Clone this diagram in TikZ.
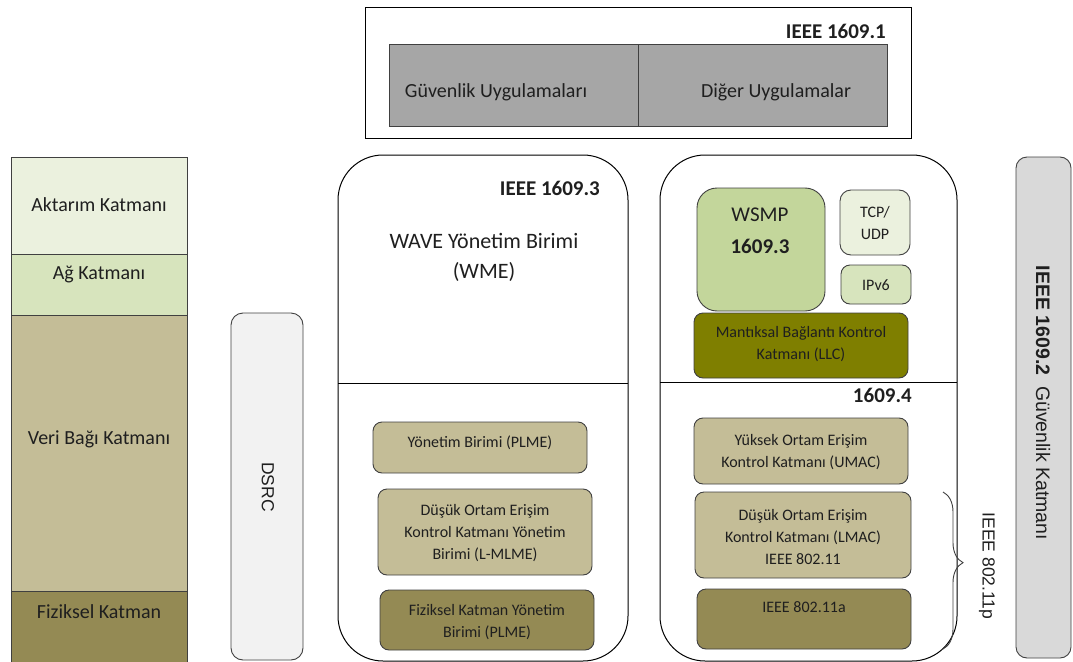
\documentclass[tikz,border=0pt]{standalone}
\usepackage{fontspec}
\setmainfont{Carlito}
\newfontfamily\arialf{Liberation Sans}
\usetikzlibrary{decorations.pathreplacing}
\definecolor{lightgreen}{HTML}{EBF1DE}
\definecolor{midgreen}{HTML}{D7E4BD}
\definecolor{wsmpgreen}{HTML}{C3D69B}
\definecolor{tan}{HTML}{C4BD97}
\definecolor{darktan}{HTML}{948A54}
\definecolor{olive}{HTML}{7F7F00}
\definecolor{appgray}{HTML}{A6A6A6}
\definecolor{secgray}{HTML}{D9D9D9}
\definecolor{dsrcgray}{HTML}{F2F2F2}
\definecolor{edge}{HTML}{404040}
\definecolor{ink}{HTML}{1F1F1F}
\tikzset{
  layer/.style={draw=edge, line width=0.9pt},
  group/.style={draw=black, line width=1pt, rounded corners=45pt},
  unit/.style={draw=edge, line width=0.9pt, rounded corners=9pt},
  txt/.style={font=\fontsize{20}{24}\selectfont, text=ink, align=center, inner sep=0pt},
  small/.style={font=\fontsize{16}{22}\selectfont, text=ink, align=center, inner sep=0pt},
  bold/.style={font=\fontsize{21}{24}\selectfont\bfseries, text=ink, inner sep=0pt},
  side/.style={font=\arialf\fontsize{17.5}{20}\selectfont, text=ink, inner sep=0pt, rotate=-90}
}
\begin{document}
\begin{tikzpicture}[x=1pt, y=-1pt]
\useasboundingbox (0,0) rectangle (1073,661);

% IEEE 1609.1 application block
\draw[black, line width=1pt] (365,8) rectangle (911,138);
\draw[layer, fill=appgray] (389,44) rectangle (638,126);
\draw[layer, fill=appgray] (638,44) rectangle (887,126);
\node[bold, anchor=east] (p1) at (886,31) {IEEE 1609.1};
\node[txt] (guv) at (496,92) {Güvenlik Uygulamaları};
\node[txt] (dig) at (776,92) {Diğer Uygulamalar};

% OSI-style layer column
\draw[layer, fill=lightgreen] (11,157) rectangle (187,254);
\draw[layer, fill=midgreen] (11,254) rectangle (187,315);
\draw[layer, fill=tan] (11,315) rectangle (187,591);
\draw[layer, fill=darktan] (11,591) rectangle (187,664);
\node[txt] (akt) at (99,205) {Aktarım Katmanı};
\node[txt] (ag) at (99,274) {Ağ Katmanı};
\node[txt] (veri) at (99,439) {Veri Bağı Katmanı};
\node[txt] (fiz) at (99,612) {Fiziksel Katman};

% DSRC bar
\draw[draw=edge, line width=0.9pt, fill=dsrcgray, rounded corners=12pt] (231,313) rectangle (303,660);
\node[side] (dsrc) at (268,487) {DSRC};

% IEEE 1609.3 management group
\draw[group] (338,155) rectangle (628,661);
\draw[black, line width=1pt] (338,383) -- (628,383);
\node[bold, anchor=east] (p3) at (600,188) {IEEE 1609.3};
\node[txt, font=\fontsize{22}{30}\selectfont] (wme) at (484,257) {WAVE Yönetim Birimi\\(WME)};
\draw[unit, fill=tan] (373,422) rectangle (587,473);
\node[small] (plme1) at (480,443) {Yönetim Birimi (PLME)};
\draw[unit, fill=tan] (378,489) rectangle (592,575);
\node[small] (lmlme) at (485,533) {Düşük Ortam Erişim\\Kontrol Katmanı Yönetim\\Birimi (L-MLME)};
\draw[unit, fill=darktan] (380,590) rectangle (594,650);
\node[small] (plme2) at (487,622) {Fiziksel Katman Yönetim\\Birimi (PLME)};

% Protocol stack group
\draw[group] (660,155) rectangle (957,661);
\draw[black, line width=1pt] (660,382) -- (957,382);
\node[bold, anchor=east] (p4) at (912,395) {1609.4};
\draw[unit, fill=wsmpgreen, rounded corners=20pt] (697,188) rectangle (825,311);
\node[txt, font=\fontsize{21}{24}\selectfont] (wsmp) at (760,215) {WSMP};
\node[bold] (w3) at (760,246) {1609.3};
\draw[unit, fill=lightgreen, rounded corners=11pt] (840,190) rectangle (910,255);
\node[small] (tcp) at (875,223) {TCP/\\UDP};
\draw[unit, fill=midgreen] (841,265) rectangle (911,304);
\node[small] (ipv6) at (876,285) {IPv6};
\draw[unit, fill=olive] (694,313) rectangle (908,378);
\node[small] (llc) at (801,344) {Mantıksal Bağlantı Kontrol\\Katmanı (LLC)};
\draw[unit, fill=tan] (694,418) rectangle (908,484);
\node[small] (umac) at (801,452) {Yüksek Ortam Erişim\\Kontrol Katmanı (UMAC)};
\draw[unit, fill=tan] (695,492) rectangle (911,578);
\node[small] (lmac) at (803,537) {Düşük Ortam Erişim\\Kontrol Katmanı (LMAC)\\IEEE 802.11};
\draw[unit, fill=darktan] (697,589) rectangle (911,649);
\node[small] (a11) at (804,607) {IEEE 802.11a};

% IEEE 802.11p brace
\coordinate (bt) at (943,492);
\coordinate (bb) at (943,649);
\draw[edge, line width=0.9pt, decorate, decoration={brace, amplitude=20pt, aspect=0.45}] (bt) -- (bb);
\node[side] (p11) at (987,566) {IEEE 802.11p};

% IEEE 1609.2 security bar
\draw[draw=edge, line width=0.9pt, fill=secgray, rounded corners=11pt] (1016,157) rectangle (1071,658);
\node[side, font=\arialf\fontsize{19.5}{22}\selectfont] (sec) at (1043,403) {\textbf{IEEE 1609.2}\ \ Güvenlik Katmanı};
\end{tikzpicture}
\end{document}
